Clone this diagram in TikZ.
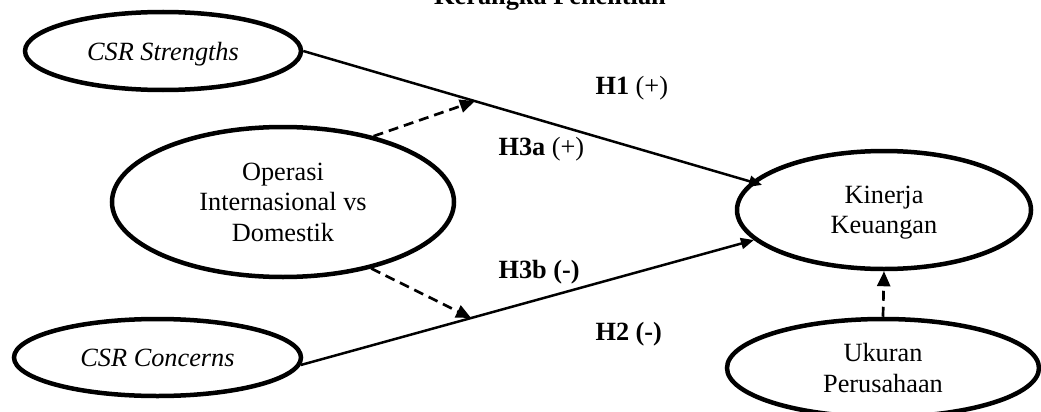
\documentclass[tikz,border=0pt]{standalone}
\usepackage{fontspec}
\setmainfont{Liberation Serif}
\usetikzlibrary{arrows.meta,shapes.geometric}
\begin{document}
\begin{tikzpicture}[x=1pt,y=-1pt,
  every node/.style={font=\fontsize{26.3}{30.5}\selectfont},
  oval/.style={draw,ellipse,line width=4.5pt,inner sep=0pt,align=center,text depth=0pt},
  solidarrow/.style={line width=2.5pt,-{Triangle[length=13pt,width=11pt]}},
  dasharrow/.style={line width=2.7pt,dash pattern=on 10pt off 6pt,-{Triangle[length=15pt,width=13pt]}},
  hlabel/.style={anchor=base west}]
\useasboundingbox (0,0) rectangle (1041,412);
\node[anchor=base] (title) at (550,5) {\textbf{Kerangka Penelitian}};
\node[oval,minimum width=276pt,minimum height=78pt] (S) at (163,51) {\textit{CSR Strengths}};
\node[oval,minimum width=342pt,minimum height=150pt] (O) at (283,202) {Operasi\\Internasional vs\\Domestik};
\node[oval,minimum width=287pt,minimum height=77pt] (C) at (157.5,357.5) {\textit{CSR Concerns}};
\node[oval,minimum width=294pt,minimum height=118pt] (K) at (884,210) {Kinerja\\Keuangan};
\node[oval,minimum width=312pt,minimum height=98pt] (U) at (883,368) {Ukuran\\Perusahaan};
\path (S.east) -- (K.168) coordinate[pos=0.383] (m1);
\path (C.-3) -- (K.193.5) coordinate[pos=0.376] (m2);
\draw[solidarrow,shorten >=-11pt] (S.east) -- (K.168);
\draw[solidarrow] (C.-3) -- (K.193.5);
\draw[dasharrow] (O.36) -- (m1);
\draw[dasharrow] (O.-37) -- (m2);
\draw[dasharrow] (U.north) -- (K.south);
\node[hlabel] (h1) at (592,95) {\textbf{H1} (+)};
\node[hlabel] (h3a) at (495,155) {\textbf{H3a} (+)};
\node[hlabel] (h3b) at (495,278) {\textbf{H3b (-)}};
\node[hlabel] (h2) at (592,340) {\textbf{H2 (-)}};
\end{tikzpicture}
\end{document}
